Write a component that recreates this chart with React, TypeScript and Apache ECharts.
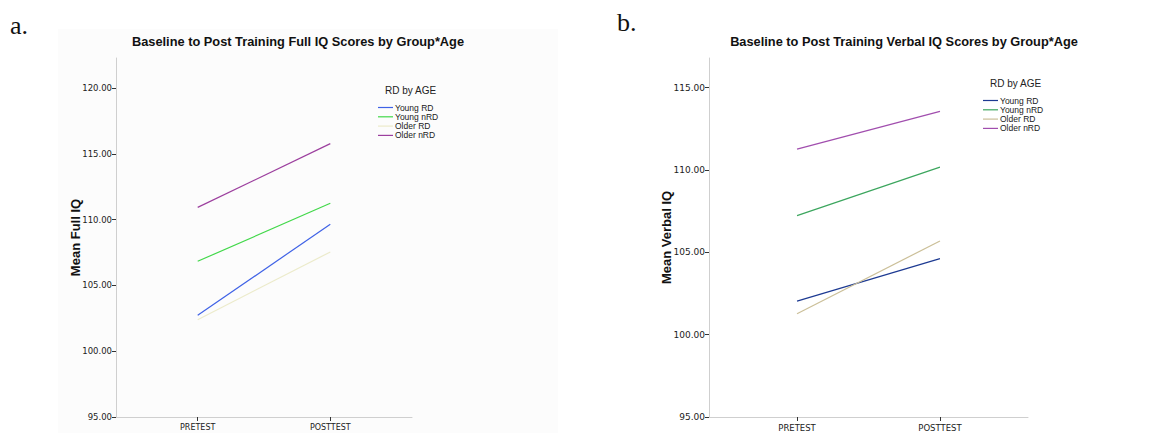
import React, { useEffect, useRef } from "react";
import * as echarts from "echarts";

const categories = ["PRETEST", "POSTTEST"];
const seriesNames = ["Young RD", "Young nRD", "Older RD", "Older nRD"];

// Panel a: Mean Full IQ
const fullYoungRD = [102.73, 109.66];
const fullYoungNRD = [106.84, 111.25];
const fullOlderRD = [102.4, 107.55];
const fullOlderNRD = [110.94, 115.79];
const fullTicks = [95, 100, 105, 110, 115, 120];
const fullColors = ["#3f62e6", "#42d84a", "#ecebcb", "#9c3f9e"];

// Panel b: Mean Verbal IQ
const verbYoungRD = [102.04, 104.62];
const verbYoungNRD = [107.23, 110.17];
const verbOlderRD = [101.27, 105.69];
const verbOlderNRD = [111.27, 113.56];
const verbTicks = [95, 100, 105, 110, 115];
const verbColors = ["#1d3a92", "#3ca65e", "#cbbf98", "#a14eae"];

const titleA = "Baseline to Post Training Full IQ Scores by Group*Age";
const titleB = "Baseline to Post Training Verbal IQ Scores by Group*Age";
const yNameA = "Mean Full IQ";
const yNameB = "Mean Verbal IQ";
const legendTitle = "RD by AGE";

const SANS = "'DejaVu Sans', sans-serif";
const BOLD = "'Liberation Sans', Arial, sans-serif";

function toPoints(vals: number[]) {
  return vals.map((v, i) => [i, v]);
}

function legendGraphics(x: number, y: number, colors: string[]) {
  const els: any[] = [
    {
      type: "text",
      left: x,
      top: y,
      style: { text: legendTitle, font: `10px ${BOLD}`, fill: "#222" },
    },
  ];
  seriesNames.forEach((n, i) => {
    const cy = y + 22.5 + i * 9.3;
    els.push({
      type: "line",
      shape: { x1: x - 7, y1: cy, x2: x + 8, y2: cy },
      style: { stroke: colors[i], lineWidth: 1.2 },
    });
    els.push({
      type: "text",
      x: x + 10,
      y: cy,
      style: { text: n, font: `8.5px ${BOLD}`, fill: "#1a1a1a", textVerticalAlign: "middle" },
    });
  });
  return els;
}

export default function App() {
  const ref = useRef<HTMLDivElement>(null);
  useEffect(() => {
    if (!ref.current) return;
    const chart = echarts.init(ref.current, null, { renderer: "svg" });
    const xAxisBase = (gi: number, fs: number) => ({
      type: "value",
      gridIndex: gi,
      min: -0.616,
      max: 1.616,
      splitLine: { show: false },
      axisLine: { show: true, onZero: false, lineStyle: { color: "#cfcfcf", width: 1 } },
      axisTick: {
        show: true,
        customValues: [0, 1],
        length: 4,
        inside: false,
        lineStyle: { color: "#333", width: 1 },
      },
      axisLabel: {
        customValues: [0, 1],
        formatter: (v: number) => categories[Math.round(v)] ?? "",
        fontFamily: SANS,
        fontSize: fs,
        color: "#222",
        margin: 6,
      },
    });
    const yAxisBase = (
      gi: number,
      min: number,
      max: number,
      ticks: number[],
      name: string,
      gap: number,
      fs: number
    ) => ({
      type: "value",
      gridIndex: gi,
      min,
      max,
      name,
      nameLocation: "middle",
      nameRotate: 90,
      nameGap: gap,
      nameMoveOverlap: false,
      nameTextStyle: { fontFamily: BOLD, fontWeight: "bold", fontSize: 13, color: "#111" },
      splitLine: { show: false },
      axisLine: { show: true, onZero: false, lineStyle: { color: "#cfcfcf", width: 1 } },
      axisTick: { show: true, customValues: ticks, length: 4, lineStyle: { color: "#333" } },
      axisLabel: {
        customValues: ticks,
        formatter: (v: number) => v.toFixed(2),
        fontFamily: SANS,
        fontSize: fs,
        color: "#222",
        margin: 4,
      },
    });
    const mk = (name: string, vals: number[], color: string, gi: number) => ({
      type: "line",
      name,
      xAxisIndex: gi,
      yAxisIndex: gi,
      data: toPoints(vals),
      showSymbol: false,
      symbol: "none",
      lineStyle: { color, width: 1.2 },
      itemStyle: { color },
    });
    chart.setOption({
      animation: false,
      backgroundColor: "#ffffff",
      grid: [
        { left: 116, top: 58, width: 296, height: 359 },
        { left: 709, top: 58, width: 319, height: 359 },
      ],
      xAxis: [xAxisBase(0, 8), xAxisBase(1, 8.5)],
      yAxis: [
        yAxisBase(0, 95, 122.3, fullTicks, yNameA, 34, 8.5),
        yAxisBase(1, 95, 116.8, verbTicks, yNameB, 36, 9),
      ],
      series: [
        mk(seriesNames[0], fullYoungRD, fullColors[0], 0),
        mk(seriesNames[1], fullYoungNRD, fullColors[1], 0),
        mk(seriesNames[2], fullOlderRD, fullColors[2], 0),
        mk(seriesNames[3], fullOlderNRD, fullColors[3], 0),
        mk(seriesNames[0], verbYoungRD, verbColors[0], 1),
        mk(seriesNames[1], verbYoungNRD, verbColors[1], 1),
        mk(seriesNames[2], verbOlderRD, verbColors[2], 1),
        mk(seriesNames[3], verbOlderNRD, verbColors[3], 1),
      ],
      graphic: [
        {
          type: "rect",
          z: -10,
          shape: { x: 58, y: 29, width: 500, height: 404 },
          style: { fill: "#fcfcfc" },
          silent: true,
        },
        {
          type: "text",
          x: 10,
          y: 12,
          style: { text: "a.", font: "26px 'Liberation Serif', serif", fill: "#111" },
        },
        {
          type: "text",
          x: 617,
          y: 9,
          style: { text: "b.", font: "26px 'Liberation Serif', serif", fill: "#111" },
        },
        {
          type: "text",
          x: 298,
          y: 35,
          style: { text: titleA, font: `bold 12.8px ${BOLD}`, fill: "#111", textAlign: "center" },
        },
        {
          type: "text",
          x: 904,
          y: 35,
          style: { text: titleB, font: `bold 12.8px ${BOLD}`, fill: "#111", textAlign: "center" },
        },
        ...legendGraphics(385, 85, fullColors),
        ...legendGraphics(990, 78, verbColors),
      ],
    });
    return () => chart.dispose();
  }, []);
  return <div ref={ref} style={{ width: 1152, height: 433, position: "absolute", left: 0, top: 0 }} />;
}
